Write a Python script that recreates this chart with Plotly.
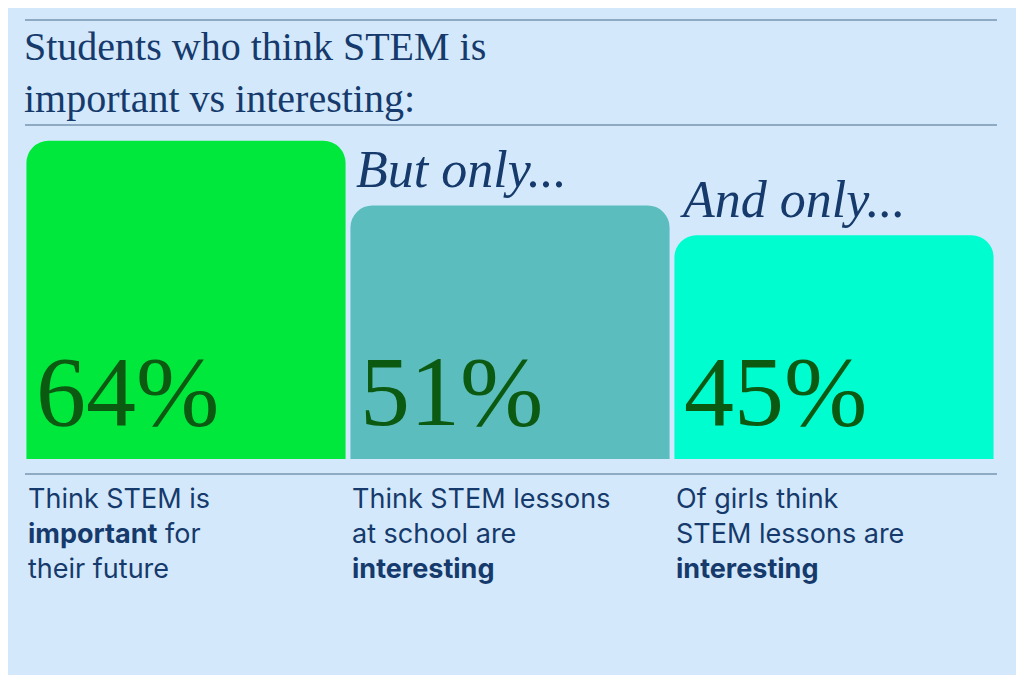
import plotly.graph_objects as go

categories = ["important", "lessons", "girls"]
values = [64, 51, 45]
value_labels = ["64%", "51%", "45%"]
headers = ["", "But only...", "And only..."]
captions = ["Think STEM is<br><b>important</b> for<br>their future",
            "Think STEM lessons<br>at school are<br><b>interesting</b>",
            "Of girls think<br>STEM lessons are<br><b>interesting</b>"]
colors = ["#00e83c", "#5bbdbd", "#00fdd0"]

OFF = 8  # page body offset
W, H = 1024, 675
L, R, T, B = 24 - OFF, 28 + OFF, 20 - OFF, 216 + OFF
pw, ph = W - L - R, H - T - B
def px(x): return (x - OFF - L) / pw
def py(y): return (H - B - (y - OFF)) / ph

fig = go.Figure(go.Bar(x=list(range(3)), y=values, marker=dict(color=colors, cornerradius=22, line_width=0),
                       width=0.985, hoverinfo="skip"))
navy = "#163a6b"
ann = []
for i in range(3):
    ann.append(dict(x=i - 0.47, y=2, xref="x", yref="y", text=value_labels[i], showarrow=False,
                    xanchor="left", yanchor="bottom", font=dict(family="Liberation Serif", size=100, color="#0c5a12")))
    ann.append(dict(x=i - 0.495, y=py(480), xref="x", yref="paper", text=captions[i], showarrow=False,
                    xanchor="left", yanchor="top", align="left",
                    font=dict(family="Inter", size=27, color=navy)))
    if headers[i]:
        ann.append(dict(x=i - 0.48, y=values[i] + 1, xref="x", yref="y", text="<i>" + headers[i] + "</i>",
                        showarrow=False, xanchor="left", yanchor="bottom",
                        font=dict(family="Liberation Serif", size=52, color=navy)))
ann.append(dict(x=px(22), y=py(22), xref="paper", yref="paper", xanchor="left", yanchor="top",
                text="Students who think STEM is<br>important vs interesting:", showarrow=False, align="left",
                font=dict(family="Liberation Serif", size=40, color=navy)))
shapes = [dict(type="line", xref="paper", yref="paper", x0=px(25), x1=px(997), y0=py(yy), y1=py(yy),
               line=dict(color="#4a6a8a", width=1)) for yy in (20, 125, 474)]

fig.update_layout(width=W, height=H, margin=dict(l=L, r=R, t=T, b=B), paper_bgcolor="#d3e9fb",
                  plot_bgcolor="#d3e9fb", showlegend=False, annotations=ann, shapes=shapes,
                  xaxis=dict(range=[-0.5, 2.5], visible=False), yaxis=dict(range=[0, 88.3], visible=False))
fig.write_html("out.html", config={"displayModeBar": False})
